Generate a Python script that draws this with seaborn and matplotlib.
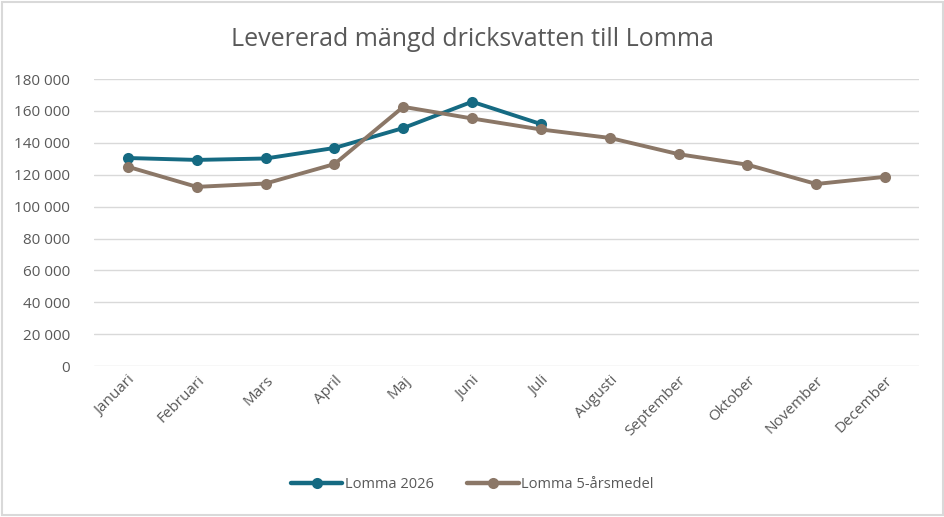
import matplotlib
matplotlib.use("Agg")
import matplotlib.pyplot as plt
import matplotlib.ticker as mticker
from matplotlib.patches import Rectangle
import seaborn as sns
import numpy as np
import pandas as pd

manader = ["Januari", "Februari", "Mars", "April", "Maj", "Juni", "Juli",
           "Augusti", "September", "Oktober", "November", "December"]
lomma_2026 = [130500, 129300, 130200, 136800, 149300, 165800, 151800,
              np.nan, np.nan, np.nan, np.nan, np.nan]
lomma_5ar = [125000, 112400, 114500, 126700, 162600, 155300, 148400,
             143100, 132900, 126300, 114200, 118700]
y_ticks = list(range(0, 180001, 20000))

df = pd.DataFrame({"Månad": manader, "Lomma 2026": lomma_2026,
                   "Lomma 5-årsmedel": lomma_5ar})
df_long = df.melt(id_vars="Månad", var_name="Serie", value_name="Mängd")

sns.set_style("white")
plt.rcParams["font.family"] = ["Open Sans", "DejaVu Sans"]
grey = "#595959"

fig = plt.figure(figsize=(9.45, 5.17), dpi=100)
ax = fig.add_axes([0.099, 0.292, 0.874, 0.555])

palette = {"Lomma 2026": "#156a82", "Lomma 5-årsmedel": "#8b7767"}
sns.lineplot(data=df_long, x="Månad", y="Mängd", hue="Serie", palette=palette,
             marker="o", markersize=8, markeredgewidth=0, linewidth=2.8,
             sort=False, ax=ax)

ax.set_ylim(0, 180000)
ax.set_xlim(-0.5, len(manader) - 0.5)
ax.set_yticks(y_ticks)
ax.yaxis.set_major_formatter(mticker.FuncFormatter(
    lambda v, p: f"{int(v):,}".replace(",", " ")))
ax.grid(axis="y", color="#d9d9d9", linewidth=1)
ax.set_axisbelow(True)
for s in ax.spines.values():
    s.set_visible(False)
ax.tick_params(axis="both", length=0, colors=grey, labelsize=11)
ax.tick_params(axis="y", pad=17)
ax.tick_params(axis="x", pad=5)
plt.setp(ax.get_xticklabels(), rotation=45, ha="right", rotation_mode="anchor")
ax.set_xlabel("")
ax.set_ylabel("")

fig.suptitle("Levererad mängd dricksvatten till Lomma", y=0.948,
             fontsize=18, color=grey)

handles, labels = ax.get_legend_handles_labels()
for h in handles:
    h.set_linewidth(3.2)
ax.legend(handles, labels, loc="center", bbox_to_anchor=(0.5, 0.062),
          bbox_transform=fig.transFigure, ncol=2, frameon=False,
          fontsize=10.5, labelcolor=grey, handlelength=3.5,
          handletextpad=0.2, columnspacing=2.3)

fig.patches.append(Rectangle((0.002, 0.003), 0.996, 0.994, transform=fig.transFigure,
                             fill=False, edgecolor="#d9d9d9", linewidth=1.5))

fig.savefig("out.png", dpi=100)
